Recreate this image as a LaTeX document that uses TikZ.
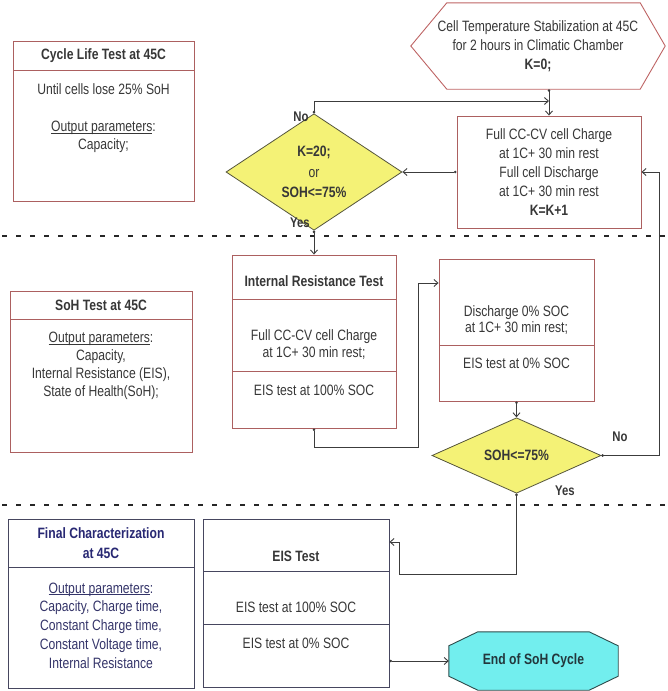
\documentclass[tikz,border=0pt]{standalone}
\usepackage{fontspec}
\setmainfont{Liberation Sans}[FakeStretch=0.81]
\usetikzlibrary{arrows.meta,shapes.geometric,backgrounds,calc}
\newcommand\myul[1]{\setbox0\hbox{#1}\rlap{\rule[-1.6pt]{\wd0}{0.55pt}}\box0}
\definecolor{redline}{RGB}{172,96,96}
\definecolor{hexline}{RGB}{190,100,100}
\definecolor{blueline}{RGB}{70,70,95}
\definecolor{textgray}{RGB}{55,55,55}
\definecolor{navytext}{RGB}{40,40,115}
\definecolor{navybody}{RGB}{52,52,105}
\definecolor{linegray}{RGB}{60,60,60}
\definecolor{diayellow}{RGB}{244,242,118}
\definecolor{diaborder}{RGB}{85,85,60}
\definecolor{octfill}{RGB}{114,238,238}
\definecolor{octline}{RGB}{45,75,75}
\definecolor{octtext}{RGB}{35,55,60}
\begin{document}
\begin{tikzpicture}[x=1pt,y=-1pt,
  rbox/.style={draw=redline, line width=0.9pt, inner sep=0pt},
  bbox/.style={draw=blueline, line width=0.9pt, inner sep=0pt},
  txt/.style={font=\fontsize{15}{18}\selectfont, align=center, text=textgray, inner sep=0pt},
  ttl/.style={txt, font=\fontsize{15}{18}\selectfont\bfseries},
  dia/.style={shape=diamond, draw=diaborder, fill=diayellow, line width=0.8pt, inner sep=0pt, align=center, text=textgray},
  arr/.style={draw=linegray, line width=0.9pt, {Circle[length=2.6pt]}-{Straight Barb[length=4pt,width=7pt]}},
  sepline/.style={draw=black!85, line width=2pt, dash pattern=on 5pt off 9pt},
  lbl/.style={font=\fontsize{14}{16}\selectfont\bfseries, text=textgray, inner sep=0pt}]

\useasboundingbox (0,0) rectangle (667,691);

% ---------- Section 1 ----------
\node[rbox, ttl, minimum width=181pt, minimum height=29pt] (cl1) at (103.5,55.5) {Cycle Life Test at 45C};
\node[rbox, minimum width=181pt, minimum height=131pt] (cl2) at (103.5,135.5) {};
\node[txt] (cl2a) at (103.5,89) {Until cells lose 25\% SoH};
\node[txt] (cl2b) at (103.5,137) {\myul{Output parameters}:\\Capacity;};

\node[txt, font=\fontsize{15}{19}\selectfont, minimum width=254pt, minimum height=86pt] (hex) at (538,46)
  {Cell Temperature Stabilization at 45C\\for 2 hours in Climatic Chamber\\\textbf{K=0;}};
\begin{scope}[on background layer]
\draw[draw=hexline, line width=0.9pt, fill=white]
  ($(hex.north west)+(36,0)$) -- ($(hex.north east)+(-25,0)$) -- (hex.east) --
  ($(hex.south east)+(-25,0)$) -- ($(hex.south west)+(36,0)$) -- (hex.west) -- cycle;
\end{scope}

\node[rbox, txt, font=\fontsize{15}{19}\selectfont, minimum width=184pt, minimum height=112pt] (fc) at (549,172)
  {Full CC-CV cell Charge\\at 1C+ 30 min rest\\Full cell Discharge\\at 1C+ 30 min rest\\\textbf{K=K+1}};

\node[dia, font=\fontsize{15}{20.5}\selectfont, minimum width=176pt, minimum height=81pt] (d1) at (314,172)
  {\textbf{K=20;}\\or\\\textbf{SOH<=75\%}};

\coordinate (lp) at (549,101);
\draw[arr] (fc.north |- hex.south) -- (fc.north);
\draw[arr] (d1.north) |- (lp);
\draw[arr] (fc.west) -- (d1.east);

\node[lbl] (no1) at (301,117) {No};
\node[lbl] (yes1) at (300,223) {Yes};

\coordinate (s1a) at (2,236);
\coordinate (s1b) at (667,236);
\draw[sepline] (s1a) -- (s1b);

% ---------- Section 2 ----------
\node[rbox, ttl, minimum width=182pt, minimum height=28pt] (sh1) at (101,305) {SoH Test at 45C};
\node[rbox, minimum width=182pt, minimum height=133pt] (sh2) at (101,385.5) {};
\node[txt] (sh2t) at (101,366) {\myul{Output parameters}:\\Capacity,\\Internal Resistance (EIS),\\State of Health(SoH);};

\node[rbox, minimum width=164pt, minimum height=44pt] (ir1) at (314,277) {};
\node[rbox, minimum width=164pt, minimum height=72pt] (ir2) at (314,335) {};
\node[rbox, minimum width=164pt, minimum height=57pt] (ir3) at (314,399.5) {};
\node[ttl] (ir1t) at (314,281) {Internal Resistance Test};
\node[txt, font=\fontsize{15}{17}\selectfont] (ir2t) at (314,345) {Full CC-CV cell Charge\\at 1C+ 30 min rest;};
\node[txt] (ir3t) at (314,390) {EIS test at 100\% SOC};

\draw[arr] (d1.south) -- (ir1.north);

\node[rbox, minimum width=155pt, minimum height=86pt] (dis1) at (516.5,302) {};
\node[rbox, minimum width=155pt, minimum height=56pt] (dis2) at (516.5,373) {};
\node[txt, font=\fontsize{15}{16.5}\selectfont] (dis1t) at (516.5,320) {Discharge 0\% SOC\\at 1C+ 30 min rest;};
\node[txt] (dis2t) at (516.5,363) {EIS test at 0\% SOC};

\coordinate (j1) at (418,447);
\coordinate (j2) at (418,283);
\draw[arr] (ir3.south) |- (j1) -- (j2) -- (j2 -| dis1.west);

\node[dia, font=\fontsize{15}{18}\selectfont\bfseries, minimum width=169pt, minimum height=53pt] (d2) at (516.5,455.5) {SOH<=75\%};
\draw[arr] (dis2.south) -- (d2.north);

\coordinate (rr) at (659,455.5);
\draw[arr] (d2.east) -- (rr) |- (fc.east);

\node[lbl] (no2) at (620,437) {No};
\node[lbl] (yes2) at (565,491) {Yes};

\coordinate (s2a) at (2,505);
\coordinate (s2b) at (667,505);
\draw[sepline] (s2a) -- (s2b);

% ---------- Section 3 ----------
\node[bbox, minimum width=186pt, minimum height=48pt] (fin1) at (101,543) {};
\node[bbox, minimum width=186pt, minimum height=121pt] (fin2) at (101,627.5) {};
\node[txt, font=\fontsize{15}{20}\selectfont\bfseries, text=navytext] (fin1t) at (101,543) {Final Characterization\\at 45C};
\node[txt, font=\fontsize{15}{18.75}\selectfont, text=navybody] (fin2t) at (101,625.5)
  {\myul{Output parameters}:\\Capacity, Charge time,\\Constant Charge time,\\Constant Voltage time,\\Internal Resistance};

\node[bbox, minimum width=186pt, minimum height=52pt] (eis1) at (296,545) {};
\node[bbox, minimum width=186pt, minimum height=53pt] (eis2) at (296,597.5) {};
\node[bbox, minimum width=186pt, minimum height=63pt] (eis3) at (296,655.5) {};
\node[ttl] (eis1t) at (296,556) {EIS Test};
\node[txt] (eis2t) at (296,607) {EIS test at 100\% SOC};
\node[txt] (eis3t) at (296,643) {EIS test at 0\% SOC};

\coordinate (j3) at (516.5,574);
\coordinate (j4) at (399,574);
\coordinate (j5) at (399,542);
\draw[arr] (d2.south) -- (j3) -- (j4) -- (j5) -- (j5 -| eis1.east);

\node[txt, font=\fontsize{15}{18}\selectfont\bfseries, text=octtext, minimum width=169pt, minimum height=58pt] (oct) at (533.5,661) {End of SoH Cycle};
\begin{scope}[on background layer]
\draw[draw=octline, line width=0.9pt, fill=octfill]
  ($(oct.north west)+(29,0)$) -- ($(oct.north east)+(-29,0)$) -- ($(oct.north east)+(0,14)$) --
  ($(oct.south east)+(0,-14)$) -- ($(oct.south east)+(-29,0)$) -- ($(oct.south west)+(29,0)$) --
  ($(oct.south west)+(0,-14)$) -- ($(oct.north west)+(0,14)$) -- cycle;
\end{scope}

\draw[arr] (eis3.east |- oct.west) -- (oct.west);
\end{tikzpicture}
\end{document}
